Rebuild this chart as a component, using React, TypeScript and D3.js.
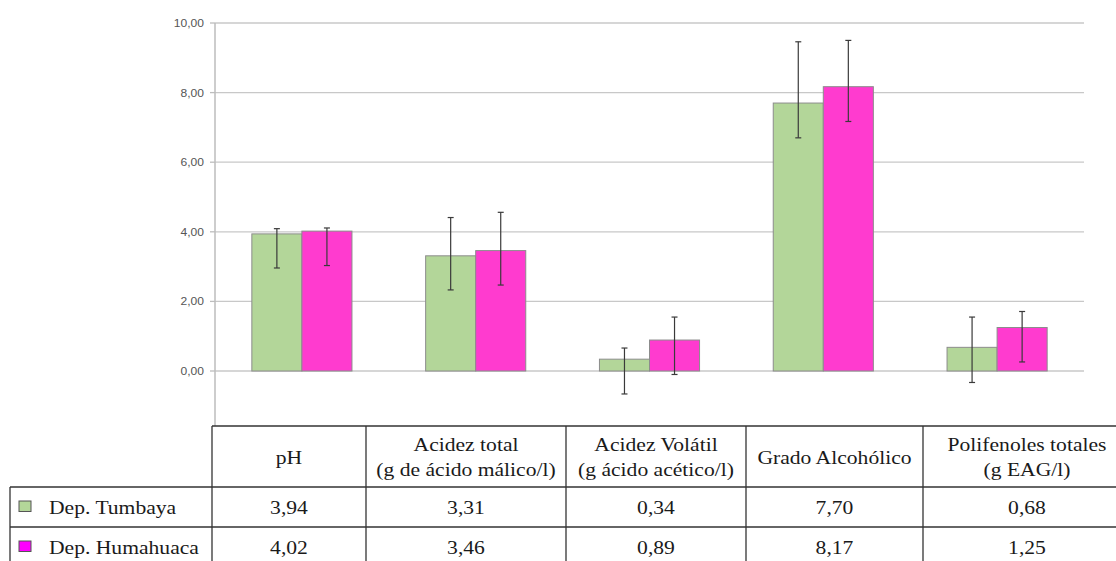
import * as d3 from "d3";

const categories = ["pH", "Acidez total", "Acidez Volátil", "Grado Alcohólico", "Polifenoles totales"];
const headerLines = [
  ["pH"],
  ["Acidez total", "(g de ácido málico/l)"],
  ["Acidez Volátil", "(g ácido acético/l)"],
  ["Grado Alcohólico"],
  ["Polifenoles totales", "(g EAG/l)"],
];
const seriesNames = ["Dep. Tumbaya", "Dep. Humahuaca"];
const tumbaya = [3.94, 3.31, 0.34, 7.7, 0.68];
const humahuaca = [4.02, 3.46, 0.89, 8.17, 1.25];
const tumbayaLow = [2.96, 2.33, -0.66, 6.7, -0.33];
const tumbayaHigh = [4.09, 4.41, 0.66, 9.46, 1.55];
const humahuacaLow = [3.03, 2.47, -0.1, 7.17, 0.26];
const humahuacaHigh = [4.11, 4.56, 1.55, 9.5, 1.71];
const yTicks = [0, 2, 4, 6, 8, 10];

const W = 1116;
const H = 561;
const PLOT = { left: 215, right: 1084, top: 23, zero: 371, bottom: 426 };
const COLORS = ["#b3d699", "#ff3bcf"];
const SWATCH = ["#b3d699", "#ff00ff"];
// the source image is stretched sideways, so text is too
const SX = 1.2;

// table geometry
const TABLE_LEFT = 10;
const COL_EDGES = [212, 366, 566, 746, 923, 1131];
const ROW_EDGES = [426, 487, 527, 567];

const fmt = (v: number) => d3.format(".2f")(v).replace(".", ",");

function SText({ x, y, anchor = "middle", size, family, fill, sx = SX, children }: any) {
  return (
    <text
      transform={`translate(${x},${y}) scale(${sx},1)`}
      textAnchor={anchor}
      fontSize={size}
      fontFamily={family}
      fill={fill}
    >
      {children}
    </text>
  );
}

export default function App() {
  const x = d3
    .scaleBand<string>()
    .domain(categories)
    .range([PLOT.left, PLOT.right])
    .paddingInner(0.424)
    .paddingOuter(0.212);
  const x1 = d3.scaleBand<number>().domain([0, 1]).range([0, x.bandwidth()]);
  const y = d3.scaleLinear().domain([0, 10]).range([PLOT.zero, PLOT.top]);

  const series = [
    { name: seriesNames[0], values: tumbaya, low: tumbayaLow, high: tumbayaHigh },
    { name: seriesNames[1], values: humahuaca, low: humahuacaLow, high: humahuacaHigh },
  ];

  const serif = "'Liberation Serif', 'Times New Roman', serif";
  const sans = "'Liberation Sans', Arial, sans-serif";
  const rightEdge = COL_EDGES[COL_EDGES.length - 1];
  const TS = 18;

  return (
    <div style={{ position: "absolute", left: 0, top: 0, width: W, height: H, overflow: "hidden", background: "#fff" }}>
      <svg width={W} height={H} viewBox={`0 0 ${W} ${H}`}>
        {/* grid + y axis */}
        {yTicks.map((t) => (
          <g key={t}>
            <line x1={PLOT.left} x2={PLOT.right} y1={y(t)} y2={y(t)} stroke="#c8c8c8" strokeWidth={1.3} />
            <line x1={PLOT.left - 5} x2={PLOT.left} y1={y(t)} y2={y(t)} stroke="#bdbdbd" strokeWidth={1.3} />
            <SText x={PLOT.left - 11} y={y(t) + 4} anchor="end" size={10.5} family={sans} fill="#555" sx={1.15}>
              {fmt(t)}
            </SText>
          </g>
        ))}
        <line x1={PLOT.left} x2={PLOT.left} y1={y(10)} y2={PLOT.bottom} stroke="#bdbdbd" strokeWidth={1.5} />

        {/* bars */}
        {series.map((s, si) =>
          categories.map((c, ci) => {
            const bx = (x(c) ?? 0) + (x1(si) ?? 0);
            const v = s.values[ci];
            return (
              <rect
                key={`${si}-${ci}`}
                x={bx}
                y={Math.min(y(v), y(0))}
                width={x1.bandwidth()}
                height={Math.abs(y(0) - y(v))}
                fill={COLORS[si]}
                stroke="#8c8c8c"
                strokeWidth={1}
              />
            );
          })
        )}

        {/* error bars */}
        {series.map((s, si) =>
          categories.map((c, ci) => {
            const cx = (x(c) ?? 0) + (x1(si) ?? 0) + x1.bandwidth() / 2;
            const yl = y(s.low[ci]);
            const yh = y(s.high[ci]);
            return (
              <g key={`e${si}-${ci}`} stroke="#3a3a3a" strokeWidth={1.2}>
                <line x1={cx} x2={cx} y1={yh} y2={yl} />
                <line x1={cx - 3} x2={cx + 3} y1={yh} y2={yh} />
                <line x1={cx - 3} x2={cx + 3} y1={yl} y2={yl} />
              </g>
            );
          })
        )}

        {/* data table */}
        <g stroke="#333" strokeWidth={1.3}>
          <line x1={COL_EDGES[0]} x2={rightEdge} y1={ROW_EDGES[0]} y2={ROW_EDGES[0]} />
          {ROW_EDGES.slice(1).map((ry) => (
            <line key={ry} x1={TABLE_LEFT} x2={rightEdge} y1={ry} y2={ry} />
          ))}
          <line x1={TABLE_LEFT} x2={TABLE_LEFT} y1={ROW_EDGES[1]} y2={ROW_EDGES[3]} />
          {COL_EDGES.map((cx) => (
            <line key={cx} x1={cx} x2={cx} y1={ROW_EDGES[0]} y2={ROW_EDGES[3]} />
          ))}
        </g>

        {headerLines.map((lines, i) => {
          const cx = (COL_EDGES[i] + COL_EDGES[i + 1]) / 2;
          const mid = (ROW_EDGES[0] + ROW_EDGES[1]) / 2;
          const start = mid + 7 - ((lines.length - 1) * 25) / 2;
          return lines.map((l, li) => (
            <SText key={`${i}-${li}`} x={cx} y={start + li * 25} size={TS} family={serif} fill="#1a1a1a">
              {l}
            </SText>
          ));
        })}

        {series.map((s, si) => {
          const top = ROW_EDGES[si + 1];
          const bot = ROW_EDGES[si + 2];
          const mid = (top + bot) / 2;
          return (
            <g key={`row${si}`}>
              <rect x={19} y={mid - 6} width={12} height={10.5} fill={SWATCH[si]} stroke="#555" strokeWidth={1} />
              <SText x={49} y={mid + 7} anchor="start" size={TS} family={serif} fill="#1a1a1a">
                {s.name}
              </SText>
              {s.values.map((v, ci) => (
                <SText
                  key={ci}
                  x={(COL_EDGES[ci] + COL_EDGES[ci + 1]) / 2}
                  y={mid + 7}
                  size={TS}
                  family={serif}
                  fill="#1a1a1a"
                >
                  {fmt(v)}
                </SText>
              ))}
            </g>
          );
        })}
      </svg>
    </div>
  );
}
